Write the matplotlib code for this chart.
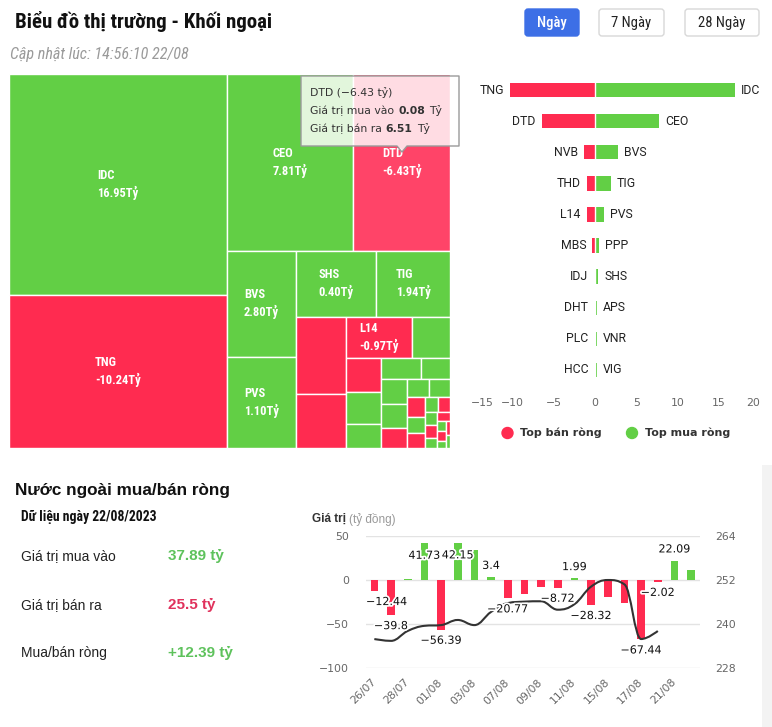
import matplotlib
matplotlib.use('Agg')
import matplotlib.pyplot as plt
import matplotlib.patheffects as pe
from matplotlib import font_manager
from matplotlib.patches import Rectangle, FancyBboxPatch, Polygon, Circle, PathPatch
from matplotlib.path import Path
import numpy as np

W, H = 772, 727
GREEN = '#62cf45'
RED = '#ff2b50'
RED_HOVER = '#ff4468'

# treemap: tile size read from the tile area, net value from the tile text
tile_sizes = [16.0, 11.07, 7.45, 5.69, 2.47, 2.12, 1.76, 1.63, 1.27, 0.90, 0.89,
              0.51, 0.40, 0.37, 0.28, 0.28, 0.21, 0.21, 0.20, 0.17, 0.13,
              0.125, 0.12, 0.10, 0.09, 0.07, 0.06, 0.05, 0.05, 0.04, 0.04,
              0.03, 0.03, 0.02, 0.02, 0.02]
tile_up = [1, 0, 1, 0, 1, 1, 1, 1, 0, 0, 0,
           1, 0, 1, 1, 1, 1, 1, 1, 0, 1,
           1, 0, 1, 0, 1, 0, 1, 0, 1, 0,
           1, 0, 1, 0, 1]
tile_names = ['IDC', 'TNG', 'CEO', 'DTD', 'BVS', 'PVS', 'SHS', 'TIG', '', '', 'L14']
tile_net = [16.95, -10.24, 7.81, -6.43, 2.80, 1.10, 0.40, 1.94, None, None, -0.97]
hovered = 'DTD'

# top sellers / buyers (tỷ)
sell_names = ['TNG', 'DTD', 'NVB', 'THD', 'L14', 'MBS', 'IDJ', 'DHT', 'PLC', 'HCC']
sell_vals = [-10.24, -6.43, -1.33, -1.0, -0.97, -0.3, -0.03, -0.02, -0.02, -0.02]
buy_names = ['IDC', 'CEO', 'BVS', 'TIG', 'PVS', 'PPP', 'SHS', 'APS', 'VNR', 'VIG']
buy_vals = [16.95, 7.81, 2.80, 1.94, 1.10, 0.45, 0.40, 0.25, 0.24, 0.24]

# daily net flow (tỷ đồng) and index line
dates = ['26/07', '27/07', '28/07', '31/07', '01/08', '02/08', '03/08', '04/08',
         '07/08', '08/08', '09/08', '10/08', '11/08', '14/08', '15/08', '16/08',
         '17/08', '18/08', '21/08', '22/08']
net_flow = [-12.44, -39.8, 0.8, 41.73, -56.39, 42.15, 33.8, 3.4, -20.77, -15.5,
            -7.6, -8.72, 1.99, -28.32, -19.5, -26.5, -67.44, -2.02, 22.09, 11.5]
labeled = [0, 1, 3, 4, 5, 7, 8, 11, 12, 13, 16, 17, 18]
index_close = [235.9, 235.4, 238.1, 239.5, 239.7, 241.1, 239.7, 243.3, 245.7,
               246.1, 246.2, 243.9, 245.4, 250.2, 252.0, 250.8, 235.9, 238.1]

names = {f.name for f in font_manager.fontManager.ttflist}
COND = next((n for n in ['Roboto Condensed', 'Liberation Sans Narrow'] if n in names), 'Roboto')
ARIAL = 'Liberation Sans'
plt.rcParams['font.family'] = ['DejaVu Sans']


def treemap_layout(sizes, width, height):
    # squarified, Highcharts style: a column on the left, then a row on top, ...
    total = sum(sizes)
    areas = [s * width * height / total for s in sizes]
    box = [0.0, 0.0, float(width), float(height)]
    state = {'vertical': True}
    rects, row = [], []

    def ratio(a, b):
        return max(a / b, b / a)

    def place(row):
        x0, y0, w, h = box
        vertical = state['vertical']
        thick = sum(row) / (h if vertical else w)
        pos = y0 if vertical else x0
        for a in row:
            length = a / thick
            if vertical:
                rects.append((x0, pos, thick, length))
            else:
                rects.append((pos, y0, length, thick))
            pos += length
        if vertical:
            box[0] += thick
            box[2] -= thick
        else:
            box[1] += thick
            box[3] -= thick
        state['vertical'] = not vertical

    for a in areas:
        if row:
            side = box[3] if state['vertical'] else box[2]
            old_t = sum(row) / side
            new_t = (sum(row) + a) / side
            last = row[-1]
            if ratio(new_t, last / new_t) > ratio(old_t, last / old_t):
                place(row)
                row = []
        row.append(a)
    place(row)
    return rects


def spline_path(xs, ys, smoothing=1.5):
    n = len(xs)
    conts = []
    for i in range(n):
        if i == 0 or i == n - 1:
            conts.append(((xs[i], ys[i]), (xs[i], ys[i])))
            continue
        d = smoothing + 1
        lx = (smoothing * xs[i] + xs[i - 1]) / d
        ly = (smoothing * ys[i] + ys[i - 1]) / d
        rx = (smoothing * xs[i] + xs[i + 1]) / d
        ry = (smoothing * ys[i] + ys[i + 1]) / d
        corr = (ry - ly) * (rx - xs[i]) / (rx - lx) + ys[i] - ry
        ly += corr
        ry += corr
        if ly > ys[i - 1] and ly > ys[i]:
            ly = max(ys[i - 1], ys[i]); ry = 2 * ys[i] - ly
        elif ly < ys[i - 1] and ly < ys[i]:
            ly = min(ys[i - 1], ys[i]); ry = 2 * ys[i] - ly
        if ry > ys[i + 1] and ry > ys[i]:
            ry = max(ys[i + 1], ys[i]); ly = 2 * ys[i] - ry
        elif ry < ys[i + 1] and ry < ys[i]:
            ry = min(ys[i + 1], ys[i]); ly = 2 * ys[i] - ry
        conts.append(((lx, ly), (rx, ry)))
    verts = [(xs[0], ys[0])]
    codes = [Path.MOVETO]
    for i in range(1, n):
        verts += [conts[i - 1][1], conts[i][0], (xs[i], ys[i])]
        codes += [Path.CURVE4] * 3
    return Path(verts, codes)


fig = plt.figure(figsize=(W / 100, H / 100), dpi=100)
R = fig.canvas.get_renderer()


def px_axes(x0, y0, x1, y1):
    return fig.add_axes([x0 / W, 1 - y1 / H, (x1 - x0) / W, (y1 - y0) / H])


ov = px_axes(0, 0, W, H)
ov.set_xlim(0, W)
ov.set_ylim(H, 0)
ov.axis('off')
ov.set_zorder(5)


def label(x, y, s, width=None, **kw):
    kw.setdefault('va', 'center')
    kw.setdefault('ha', 'left')
    t = ov.text(x, y, s, **kw)
    if width:
        bb = t.get_window_extent(renderer=R)
        t.set_fontsize(t.get_fontsize() * width / bb.width)
    return t


def run(x, y, parts, **kw):
    for s, extra, gap in parts:
        t = ov.text(x, y, s, va='center', ha='left', **kw, **extra)
        x += t.get_window_extent(renderer=R).width + gap


# header
label(15, 22, 'Biểu đồ thị trường - Khối ngoại', width=257, family=COND,
      fontweight='bold', fontsize=13, color='#111')
label(10, 55, 'Cập nhật lúc: 14:56:10 22/08', width=180, family=COND,
      style='italic', fontsize=9.5, color='#9a9a9a')
for (bx0, bx1, txt, active) in [(525, 579, 'Ngày', True), (599, 664, '7 Ngày', False),
                                (685, 759, '28 Ngày', False)]:
    ov.add_patch(FancyBboxPatch((bx0, 9), bx1 - bx0, 27,
                                boxstyle='round,pad=0,rounding_size=3',
                                fc='#3d6fe6' if active else 'white',
                                ec='#3d6fe6' if active else '#d8d8d8', lw=1))
    ov.text((bx0 + bx1) / 2, 22.5, txt, ha='center', va='center', family=COND,
            fontsize=10.5, color='white' if active else '#222',
            fontweight='medium' if active else 'normal')

# treemap
ax_t = px_axes(9, 74, 450, 448)
tw, th = 441, 374
ax_t.set_xlim(0, tw)
ax_t.set_ylim(th, 0)
ax_t.axis('off')
for k, (x, y, w, h) in enumerate(treemap_layout(tile_sizes, tw, th)):
    name = tile_names[k] if k < len(tile_names) else ''
    color = GREEN if tile_up[k] else RED
    if name == hovered:
        color = RED_HOVER
    ax_t.add_patch(Rectangle((x, y), w, h, fc=color, ec='white', lw=1))
    if name:
        ax_t.text(x + w / 2, y + h / 2, f'{name}\n{tile_net[k]:.2f}Tỷ', ha='center',
                  va='center', multialignment='left', linespacing=1.35,
                  family=COND, fontweight='bold', fontsize=9, color='white')

# tooltip over the hovered tile
ov.add_patch(Polygon([(301, 76), (459, 76), (459, 146), (407, 146), (402, 152),
                      (397, 146), (301, 146)], closed=True, fc=(1, 1, 1, 0.82),
                     ec='#9a9a9a', lw=1, joinstyle='round'))
tip_kw = dict(fontsize=7.8, color='#333')
run(310, 93, [('DTD (\u22126.43 tỷ)', {}, 0)], **tip_kw)
run(310, 111, [('Giá trị mua vào', {}, 4), ('0.08', {'fontweight': 'bold'}, 4),
               ('Tỷ', {}, 0)], **tip_kw)
run(310, 129, [('Giá trị bán ra', {}, 4), ('6.51', {'fontweight': 'bold'}, 4),
               ('Tỷ', {}, 0)], **tip_kw)

# top sell / buy bars
ax_r = px_axes(471, 74.5, 760, 385.5)
rows = np.arange(len(sell_names))
ax_r.barh(rows, sell_vals, height=0.46, color=RED)
ax_r.barh(rows, buy_vals, height=0.46, color=GREEN)
ax_r.axvline(0, color='white', lw=1)
ax_r.set_xlim(-15, 20)
ax_r.set_ylim(len(rows) - 0.5, -0.5)
ax_r.set_yticks([])
xt = np.arange(-15, 21, 5)
ax_r.set_xticks(xt, labels=[str(v).replace('-', '\u2212') for v in xt])
ax_r.tick_params(axis='x', length=0, pad=9, labelsize=7.8, labelcolor='#666')
tl = ax_r.get_xticklabels()
tl[0].set_horizontalalignment('left')
tl[-1].set_horizontalalignment('right')
for sp in ax_r.spines.values():
    sp.set_visible(False)
for i in rows:
    ax_r.annotate(sell_names[i], (sell_vals[i], i), xytext=(-4.5, 0),
                  textcoords='offset points', ha='right', va='center',
                  family='Roboto', fontsize=8.8, color='#222')
    ax_r.annotate(buy_names[i], (buy_vals[i], i), xytext=(4.5, 0),
                  textcoords='offset points', ha='left', va='center',
                  family='Roboto', fontsize=8.8, color='#222')

ov.add_patch(Circle((507.5, 433), 5.5, color=RED))
label(520, 433, 'Top bán ròng', fontsize=8, fontweight='bold', color='#333')
ov.add_patch(Circle((632, 433), 5.5, color=GREEN))
label(645, 433, 'Top mua ròng', fontsize=8, fontweight='bold', color='#333')

# bottom left summary
label(15, 491, 'Nước ngoài mua/bán ròng', width=214, family=ARIAL,
      fontweight='bold', fontsize=12, color='#111')
label(21, 517, 'Dữ liệu ngày 22/08/2023', width=136, family=COND,
      fontweight='bold', fontsize=9, color='#111')
for yy, name, val, col in [(556, 'Giá trị mua vào', '37.89 tỷ', '#5ec25c'),
                           (605, 'Giá trị bán ra', '25.5 tỷ', '#e0325c'),
                           (653, 'Mua/bán ròng', '+12.39 tỷ', '#5ec25c')]:
    label(21, yy, name, family=ARIAL, fontsize=10, color='#222')
    label(168, yy, val, family=ARIAL, fontsize=11, fontweight='bold', color=col)

# net flow chart
run(312, 519, [('Giá trị', {'fontweight': 'bold', 'color': '#333', 'family': ARIAL}, 3),
               ('(tỷ đồng)', {'color': '#999', 'family': ARIAL}, 0)], fontsize=8.5)
ax_c = px_axes(366, 536, 699.5, 668)
xs = np.arange(len(dates))
ax_c.bar(xs, net_flow, width=0.46, color=[GREEN if v >= 0 else RED for v in net_flow])
ax_c.set_xlim(-0.5, len(dates) - 0.5)
ax_c.set_ylim(-100, 50)
ax_c.set_yticks([-100, -50, 0, 50])
ax_c.yaxis.grid(True, color='#e3e3e3', lw=1)
ax_c.set_axisbelow(True)
ax_c.set_xticks(xs[::2], labels=dates[::2], rotation=45, ha='right',
                va='center', rotation_mode='anchor')
ax_c.tick_params(axis='x', length=0, pad=9, labelsize=7.8, labelcolor='#666')
ax_c.tick_params(axis='y', length=0, pad=12, labelsize=7.8, labelcolor='#666')
ax2 = ax_c.twinx()
ax2.set_ylim(228, 264)
ax2.set_yticks([228, 240, 252, 264])
ax2.tick_params(axis='y', length=0, pad=11, labelsize=7.8, labelcolor='#666')
for a in (ax_c, ax2):
    for sp in a.spines.values():
        sp.set_visible(False)
ax2.add_patch(PathPatch(spline_path(list(xs[:len(index_close)]), index_close),
                        fc='none', ec='#333', lw=1.5))

top = ax_c.get_ylim()[1]
value_labels = []
for i in labeled:
    v = net_flow[i]
    if v >= 0 and v + 19 > top:
        off = -9
    elif v >= 0:
        off = 8
    else:
        off = -8
    t = ax2.annotate(f'{v:g}'.replace('-', '\u2212'), (i, v), xycoords=ax_c.transData,
                     xytext=(0, off), textcoords='offset points', ha='center',
                     va='center', fontsize=8, color='#111',
                     path_effects=[pe.withStroke(linewidth=2.5, foreground='white')])
    value_labels.append(t)

fig.canvas.draw()
box = ax_c.get_window_extent(renderer=R)
for t in value_labels:
    bb = t.get_window_extent(renderer=R)
    if bb.x0 < box.x0:
        dx = (box.x0 - bb.x0) * 72 / fig.dpi
        t.xyann = (t.xyann[0] + dx, t.xyann[1])

ov.add_patch(Rectangle((762, 465), 10, H - 465, fc='#f3f3f3', ec='none'))

fig.savefig('out.png', dpi=100, facecolor='white')
